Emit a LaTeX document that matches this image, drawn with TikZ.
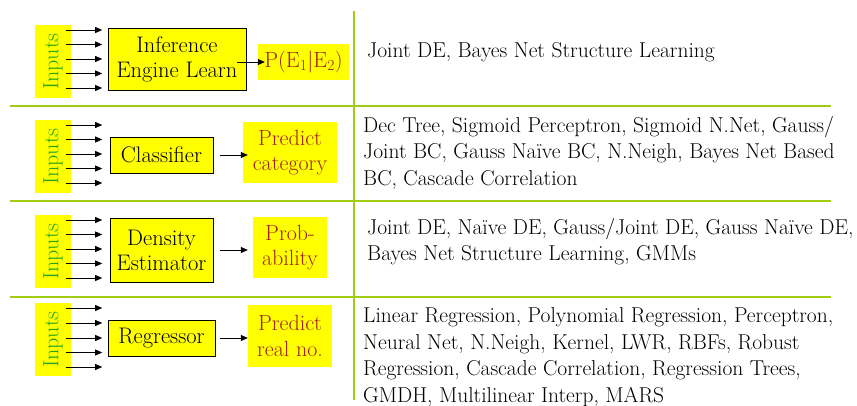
\documentclass[tikz,border=0pt]{standalone}
\usepackage{fontspec}
\usetikzlibrary{arrows.meta}
\definecolor{lgreen}{RGB}{160,205,20}
\definecolor{ingreen}{RGB}{40,165,30}
\definecolor{outred}{RGB}{160,35,25}
\definecolor{yel}{RGB}{255,255,0}
\begin{document}
\begin{tikzpicture}[x=1pt,y=-1pt,
  inbox/.style={fill=yel, minimum width=36pt, minimum height=73pt, inner sep=0pt, text=ingreen, font=\fontsize{22}{24}\selectfont},
  procbox/.style={draw=black, fill=yel, inner sep=0pt, align=center, font=\fontsize{22.5}{25}\selectfont, line width=0.8pt},
  outbox/.style={fill=yel, inner sep=0pt, align=center, text=outred, font=\fontsize{22}{25.5}\selectfont},
  arr/.style={-{Triangle[length=7pt,width=6pt]}, line width=0.7pt},
  desc/.style={anchor=west, inner sep=0pt, align=left, font=\fontsize{21.5}{26.5}\selectfont},
  sep/.style={draw=lgreen, line width=2pt}]
\useasboundingbox (0,0) rectangle (857,406);
% separators
\draw[sep] (10,106) -- (831,106);
\draw[sep] (10,201) -- (831,201);
\draw[sep] (10,297) -- (831,297);
\draw[sep] (354,11) -- (354,400);
% row 1
\node[inbox] (in1) at (53,61.5) {\rotatebox{90}{Inputs}};
\node[procbox, minimum width=138pt, minimum height=62pt] (eng) at (177,59) {Inference\\Engine Learn};
\node[outbox, minimum width=91pt, minimum height=36pt] (pout) at (303.5,62) {P(E\textsubscript{1}|E\textsubscript{2})};
\foreach \y in {30,44.5,59,73.5,88} \draw[arr] (in1.east |- 0,\y) ++(-5,0) -- ++(36,0);
\draw[arr] (eng.east |- pout.west) ++(-9,0) -- ([xshift=7pt]pout.west);
\node[desc] (d1) at (367,52) {Joint DE, Bayes Net Structure Learning};
% row 2
\node[inbox] (in2) at (53,156.5) {\rotatebox{90}{Inputs}};
\node[procbox, minimum width=103pt, minimum height=36pt] (cls) at (161.5,155) {Classifier};
\node[outbox, minimum width=94pt, minimum height=61pt] (pc) at (290,152.5) {Predict\\category};
\foreach \y in {125,139.5,154,168.5,183} \draw[arr] (in2.east |- 0,\y) ++(-5,0) -- ++(36,0);
\draw[arr] ([xshift=7pt]cls.east) -- ([xshift=5pt]pc.west |- cls.east);
\node[desc] (d2) at (363,153) {Dec Tree, Sigmoid Perceptron, Sigmoid N.Net, Gauss/\\Joint BC, Gauss Naïve BC, N.Neigh, Bayes Net Based\\BC, Cascade Correlation};
% row 3
\node[inbox] (in3) at (53,251.5) {\rotatebox{90}{Inputs}};
\node[procbox, minimum width=103pt, minimum height=64pt] (den) at (161.5,250) {Density\\Estimator};
\node[outbox, minimum width=74pt, minimum height=61pt] (prob) at (290,247.5) {Prob-\\ability};
\foreach \y in {220,234.5,249,263.5,278} \draw[arr] (in3.east |- 0,\y) ++(-5,0) -- ++(36,0);
\draw[arr] ([xshift=7pt]den.east) -- ([xshift=-5pt]prob.west |- den.east);
\node[desc] (d3) at (367,241.5) {Joint DE, Naïve DE, Gauss/Joint DE, Gauss Naïve DE,\\Bayes Net Structure Learning, GMMs};
% row 4
\node[inbox] (in4) at (53,339.5) {\rotatebox{90}{Inputs}};
\node[procbox, minimum width=107pt, minimum height=36pt] (reg) at (161.5,338) {Regressor};
\node[outbox, minimum width=84pt, minimum height=62pt] (rn) at (290,336) {Predict\\real no.};
\foreach \y in {308,323,338,352.5,367} \draw[arr] (in4.east |- 0,\y) ++(-5,0) -- ++(36,0);
\draw[arr] ([xshift=5pt]reg.east) -- (rn.west |- reg.east);
\node[desc] (d4) at (363,357) {Linear Regression, Polynomial Regression, Perceptron,\\Neural Net, N.Neigh, Kernel, LWR, RBFs, Robust\\Regression, Cascade Correlation, Regression Trees,\\GMDH, Multilinear Interp, MARS};
\end{tikzpicture}
\end{document}
